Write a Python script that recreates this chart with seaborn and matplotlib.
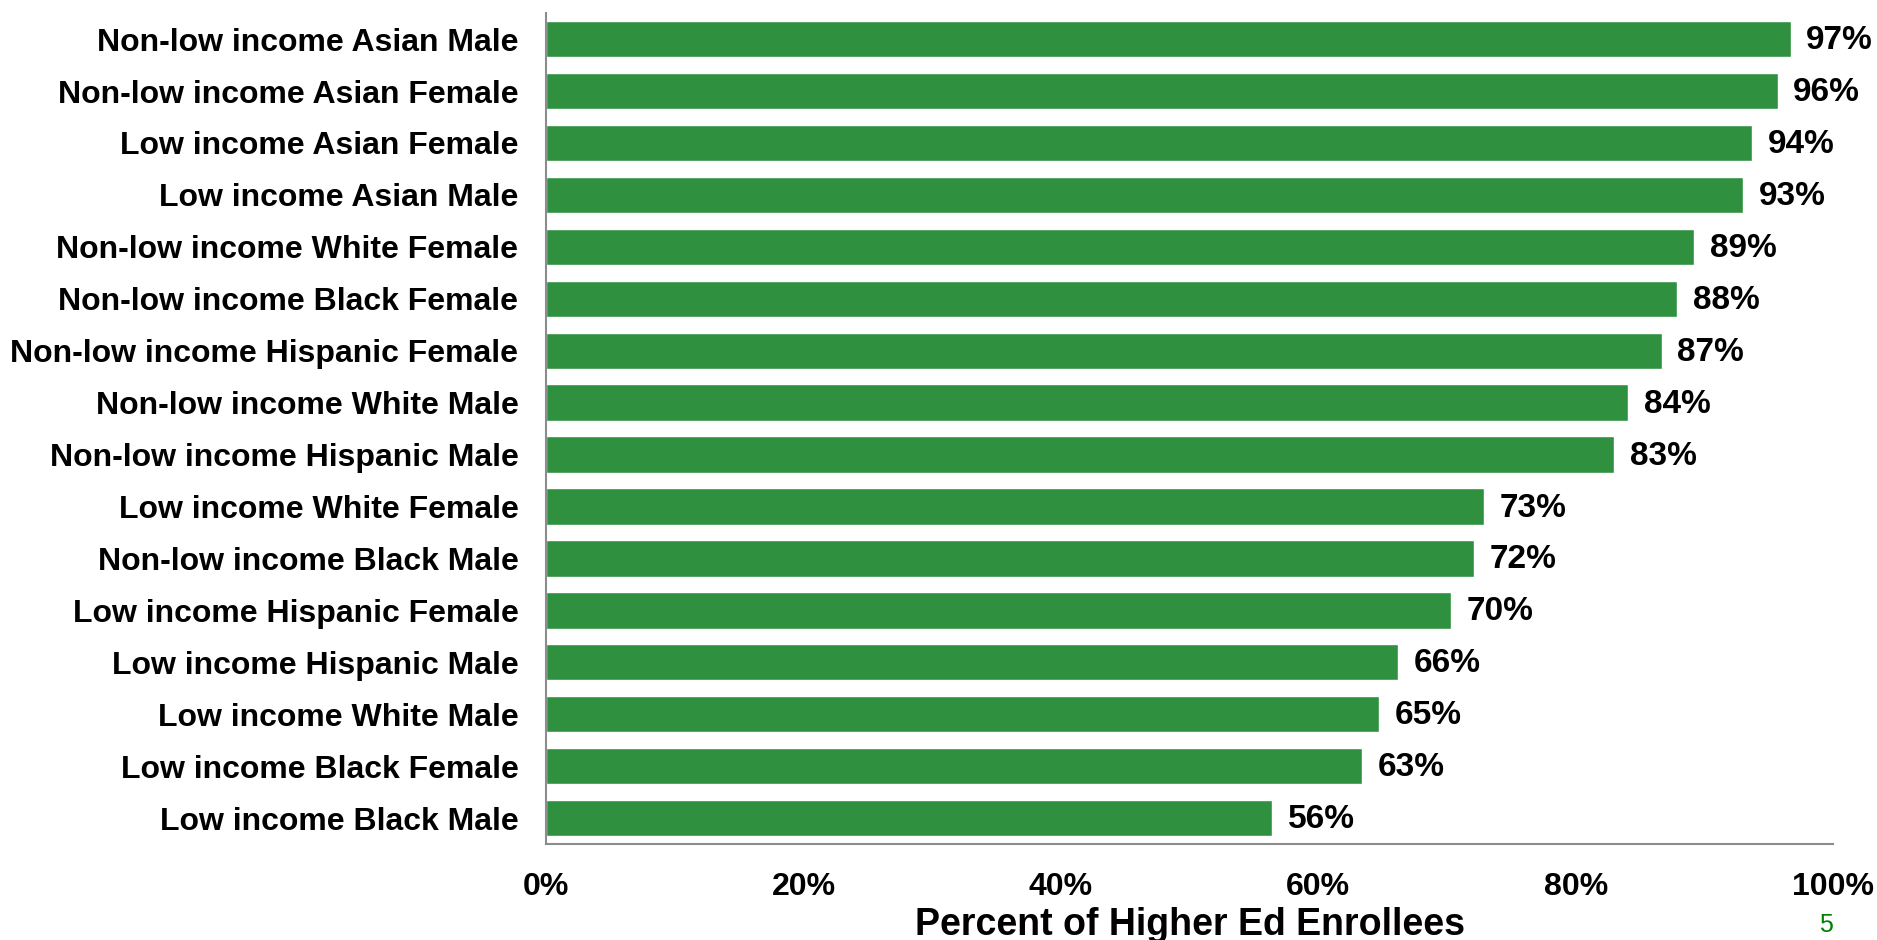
import numpy as np
import pandas as pd
import matplotlib
matplotlib.use("Agg")
import matplotlib.pyplot as plt
import seaborn as sns
from matplotlib.ticker import PercentFormatter

# ---------- data ----------
groups = [
    "Non-low income Asian Male",
    "Non-low income Asian Female",
    "Low income Asian Female",
    "Low income Asian Male",
    "Non-low income White Female",
    "Non-low income Black Female",
    "Non-low income Hispanic Female",
    "Non-low income White Male",
    "Non-low income Hispanic Male",
    "Low income White Female",
    "Non-low income Black Male",
    "Low income Hispanic Female",
    "Low income Hispanic Male",
    "Low income White Male",
    "Low income Black Female",
    "Low income Black Male",
]
share = [0.967, 0.957, 0.937, 0.930, 0.892, 0.879, 0.867, 0.841,
         0.830, 0.729, 0.721, 0.703, 0.662, 0.647, 0.634, 0.564]

df = pd.DataFrame({"group": groups, "share": share})

sns.set_style("white")
plt.rcParams["font.family"] = ["Liberation Sans", "DejaVu Sans"]
plt.rcParams["text.color"] = "black"
plt.rcParams["xtick.color"] = "black"
plt.rcParams["ytick.color"] = "black"
plt.rcParams["axes.labelcolor"] = "black"

fig = plt.figure(figsize=(18.77, 9.40), dpi=100)
ax = fig.add_axes([0.291, 0.1021, 0.9766 - 0.291, 0.986 - 0.1021])

sns.barplot(data=df, x="share", y="group", orient="h", color="#2f913f",
            saturation=1, width=0.7, ax=ax)

# value labels
for i, v in enumerate(df["share"]):
    ax.text(v + 0.012, i + 0.03, f"{v:.0%}", va="center", ha="left",
            fontsize=24, fontweight="bold", color="black")

ax.set_xlim(0, 1)
ax.set_ylim(15.5, -0.5)
ax.xaxis.set_major_formatter(PercentFormatter(1.0, decimals=0))
ax.set_xticks(np.arange(0, 1.01, 0.2))
ax.set_xlabel("Percent of Higher Ed Enrollees", fontsize=27,
              fontweight="bold", labelpad=4)
ax.set_ylabel("")

for s in ["top", "right"]:
    ax.spines[s].set_visible(False)
for s in ["left", "bottom"]:
    ax.spines[s].set_color("#8c8c8c")
    ax.spines[s].set_linewidth(1.5)

ax.tick_params(axis="x", direction="out", length=8, width=1.5,
               color="#8c8c8c", labelcolor="black", pad=12, labelsize=23)
ax.tick_params(axis="y", length=0, pad=20, labelsize=23, labelcolor="black")
for lbl in ax.get_xticklabels() + ax.get_yticklabels():
    lbl.set_fontweight("bold")

# slide number
fig.text(0.973, 0.003, "5", color="#008000", fontsize=18, ha="center", va="bottom")

fig.savefig("out.png", dpi=100)
